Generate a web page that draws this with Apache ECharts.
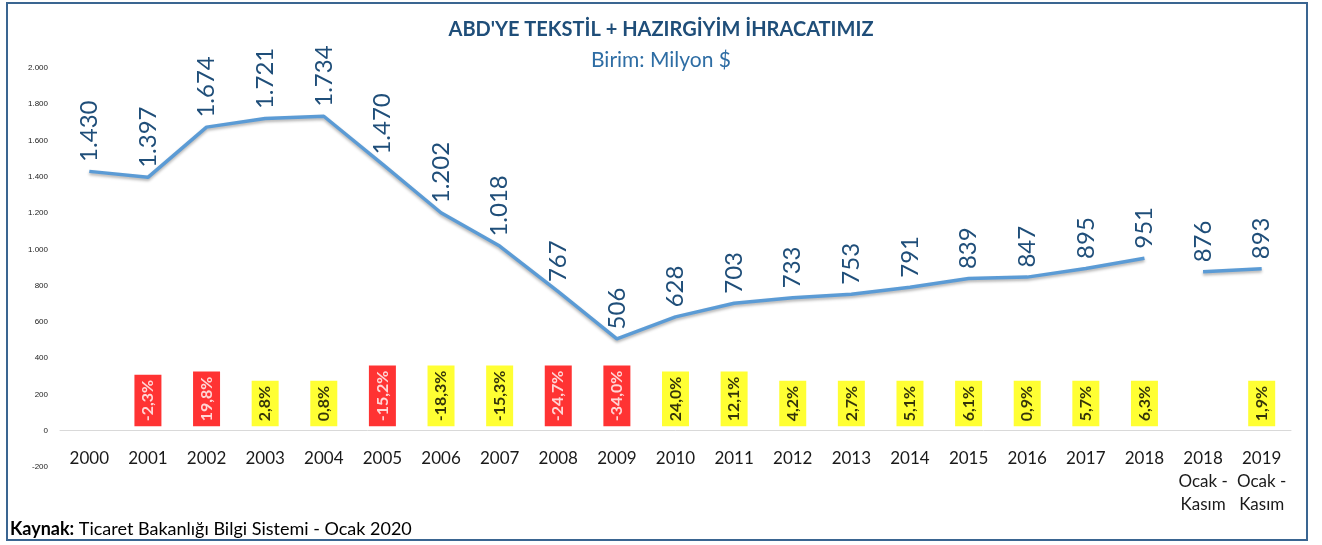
<!DOCTYPE html>
<html>
<head>
<meta charset="utf-8">
<title>ABD'ye Tekstil + Hazırgiyim İhracatımız</title>
<script src="https://cdn.jsdelivr.net/npm/echarts@6/dist/echarts.min.js"></script>
<style>
  html, body { margin: 0; padding: 0; background: #fff; }
  #main { width: 1322px; height: 545px; }
</style>
</head>
<body>
<div id="main"></div>
<script>
// yıllar (son iki kategori Ocak-Kasım dönemleri)
const categories = [
  "2000", "2001", "2002", "2003", "2004", "2005", "2006", "2007", "2008", "2009",
  "2010", "2011", "2012", "2013", "2014", "2015", "2016", "2017", "2018",
  "2018\nOcak -\nKasım", "2019\nOcak -\nKasım"
];

// yıllık ihracat, milyon $
const annualExports = [1430, 1397, 1674, 1721, 1734, 1470, 1202, 1018, 767, 506,
  628, 703, 733, 753, 791, 839, 847, 895, 951];

// Ocak-Kasım dönemleri
const janNovExports = [876, 893];

// değişim yüzdesi (kutular)
const changePct = [null, -2.3, 19.8, 2.8, 0.8, -15.2, -18.3, -15.3, -24.7, -34.0,
  24.0, 12.1, 4.2, 2.7, 5.1, 6.1, 0.9, 5.7, 6.3, null, 1.9];

// kırmızı kutu olan yıllar
const redYears = ["2001", "2002", "2005", "2008", "2009"];

const yTicks = [-200, 0, 200, 400, 600, 800, 1000, 1200, 1400, 1600, 1800, 2000];

//-----------------------------yardımcılar-----------------------------//
const fmtThousands = (v) => {
  const s = String(Math.abs(v)).replace(/\B(?=(\d{3})+(?!\d))/g, ".");
  return (v < 0 ? "-" : "") + s;
};
const fmtPct = (p) => p.toFixed(1).replace(".", ",") + "%";

const FONT = "Lato, 'Open Sans', sans-serif";
const LINE_COLOR = "#5B9BD5";
const LABEL_COLOR = "#1F4E79";

// iki çizgi parçası: yıllık ve Ocak-Kasım
const annualData = categories.map((c, i) => (i < annualExports.length ? annualExports[i] : null));
const janNovData = categories.map((c, i) => {
  const k = i - annualExports.length;
  return k >= 0 ? janNovExports[k] : null;
});

// yüzde kutuları, eksen (0) üzerine
const pctData = changePct.map((p, i) => {
  if (p === null) return null;
  const isRed = redYears.includes(categories[i]);
  return {
    value: 0,
    pct: p,
    label: {
      backgroundColor: isRed ? "#FF0000" : "#FFFF00",
      color: isRed ? "#FFFFFF" : "#000000"
    }
  };
});

const valueLabel = {
  show: true,
  position: "top",
  distance: 9,
  rotate: 90,
  align: "left",
  verticalAlign: "middle",
  color: LABEL_COLOR,
  fontFamily: FONT,
  fontSize: 24,
  formatter: (p) => fmtThousands(p.value)
};

const lineSeries = (data) => ({
  type: "line",
  data: data,
  symbol: "circle",
  symbolSize: 1,
  showSymbol: true,
  itemStyle: { color: "transparent" },
  connectNulls: false,
  lineStyle: {
    color: LINE_COLOR,
    width: 3.5,
    shadowColor: "rgba(0,0,0,0.3)",
    shadowBlur: 3,
    shadowOffsetY: 2
  },
  label: valueLabel,
  labelLayout: { hideOverlap: false },
  z: 3
});

const option = {
  backgroundColor: "#ffffff",
  animation: false,
  title: [
    {
      text: "ABD'YE TEKSTİL + HAZIRGİYİM İHRACATIMIZ",
      left: "center",
      top: 15,
      textStyle: { color: LABEL_COLOR, fontFamily: FONT, fontSize: 20, fontWeight: "bold" }
    },
    {
      text: "Birim: Milyon $",
      left: "center",
      top: 45,
      textStyle: { color: "#2E6DA4", fontFamily: FONT, fontSize: 21, fontWeight: "normal" }
    },
    {
      text: "{b|Kaynak:} Ticaret Bakanlığı Bilgi Sistemi - Ocak 2020",
      left: 5,
      top: 515,
      textStyle: {
        color: "#000000",
        fontFamily: FONT,
        fontSize: 18,
        fontWeight: "normal",
        rich: { b: { fontFamily: FONT, fontSize: 18, fontWeight: "bold", color: "#000000" } }
      }
    }
  ],
  grid: { left: 60, right: 31, top: 68, bottom: 78, outerBoundsMode: "none" },
  xAxis: {
    type: "category",
    data: categories,
    axisLine: { onZero: true, lineStyle: { color: "#D9D9D9", width: 1 } },
    axisTick: { show: false },
    axisLabel: {
      interval: 0,
      margin: -20,
      color: "#1a1a1a",
      fontFamily: FONT,
      fontSize: 17,
      lineHeight: 23
    }
  },
  yAxis: {
    type: "value",
    min: yTicks[0],
    max: yTicks[yTicks.length - 1],
    interval: 200,
    splitLine: { show: false },
    axisLine: { show: false },
    axisTick: { show: false },
    axisLabel: {
      margin: 12,
      color: "#222",
      fontFamily: "'Liberation Sans', sans-serif",
      fontSize: 8,
      formatter: (v) => fmtThousands(v)
    }
  },
  series: [
    lineSeries(annualData),
    lineSeries(janNovData),
    {
      type: "scatter",
      data: pctData,
      symbolSize: 1,
      itemStyle: { color: "transparent" },
      silent: true,
      label: {
        show: true,
        position: "insideBottom",
        distance: 5,
        rotate: 90,
        align: "left",
        verticalAlign: "middle",
        fontFamily: FONT,
        fontSize: 16,
        fontWeight: "bold",
        lineHeight: 19,
        padding: [4, 5, 4, 5],
        formatter: (p) => fmtPct(p.data.pct)
      },
      labelLayout: { hideOverlap: false },
      z: 4
    }
  ],
  graphic: [
    {
      type: "rect",
      shape: { x: 7, y: 3, width: 1300, height: 537 },
      style: { fill: "none", stroke: "#3A6591", lineWidth: 2 },
      silent: true,
      z: 10
    }
  ]
};

document.addEventListener("DOMContentLoaded", () => {
  const chart = echarts.init(document.getElementById("main"), null, { renderer: "canvas" });
  chart.setOption(option);
});
</script>
</body>
</html>
